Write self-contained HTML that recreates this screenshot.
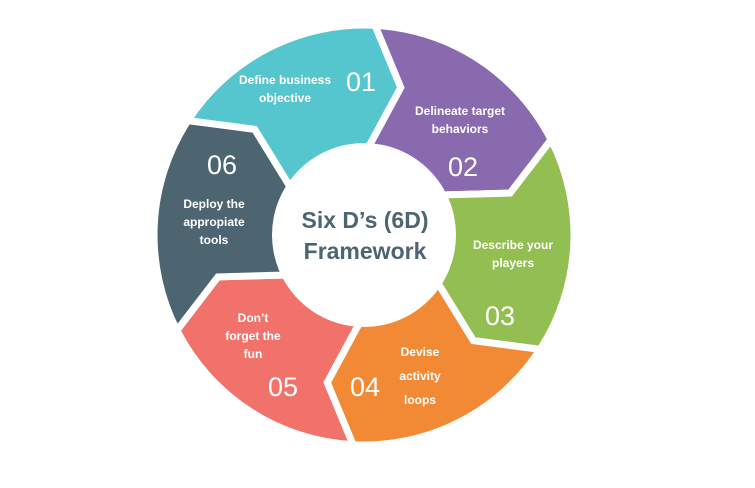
<!DOCTYPE html>
<html><head><meta charset="utf-8"><style>
html,body{margin:0;padding:0;background:#fff;width:755px;height:488px;overflow:hidden}
svg{display:block}
text{font-family:"Liberation Sans",sans-serif}
.l{fill:#fff;font-weight:bold;font-size:12px}
.n{fill:#fff;font-size:27px}
.c{fill:#4d6570;font-weight:bold;font-size:23px}
</style></head><body>
<svg id="s" width="755" height="488" viewBox="0 0 755 488">
<g id="segs"></g>
<circle cx="364" cy="235" r="92" fill="#fff"/>
<text class="c" x="365" y="228" text-anchor="middle">Six D’s (6D)</text>
<text class="c" x="365" y="259" text-anchor="middle">Framework</text>
<g text-anchor="middle">
<text class="l" x="285" y="84">Define business</text>
<text class="l" x="285" y="102">objective</text>
<text class="n" x="361" y="91">01</text>
<text class="l" x="460" y="115">Delineate target</text>
<text class="l" x="460" y="133">behaviors</text>
<text class="n" x="463" y="176">02</text>
<text class="l" x="513" y="249">Describe your</text>
<text class="l" x="513" y="267">players</text>
<text class="n" x="500" y="325">03</text>
<text class="l" x="420" y="356">Devise</text>
<text class="l" x="420" y="380">activity</text>
<text class="l" x="420" y="404">loops</text>
<text class="n" x="365" y="396">04</text>
<text class="l" x="253" y="322">Don’t</text>
<text class="l" x="253" y="340">forget the</text>
<text class="l" x="253" y="358">fun</text>
<text class="n" x="283" y="396">05</text>
<text class="n" x="222" y="174">06</text>
<text class="l" x="214" y="208">Deploy the</text>
<text class="l" x="214" y="226">appropiate</text>
<text class="l" x="214" y="244">tools</text>
</g>
</svg>
<script>
(function(){
var cx=364,cy=235,R=210,r=88,M=152,d=11;
var cols=["#55c5ce","#8a6aae","#92be52","#f28a35","#f0726a","#4d6570"];
function p(a,rad){var t=a*Math.PI/180;return (cx+rad*Math.sin(t)).toFixed(1)+","+(cy-rad*Math.cos(t)).toFixed(1);}
var g=document.getElementById("segs"),h="";
for(var i=0;i<6;i++){
var a0=-57+60*i,a1=a0+60;
var s="M"+p(a0,R)+" A"+R+","+R+" 0 0 1 "+p(a1,R)+" L"+p(a1+d,M)+" L"+p(a1,r)+" A"+r+","+r+" 0 0 0 "+p(a0,r)+" L"+p(a0+d,M)+" Z";
h+='<path d="'+s+'" fill="'+cols[i]+'" stroke="#fff" stroke-width="7" stroke-linejoin="miter"/>';
}
g.innerHTML=h;
})();
</script>
</body></html>
